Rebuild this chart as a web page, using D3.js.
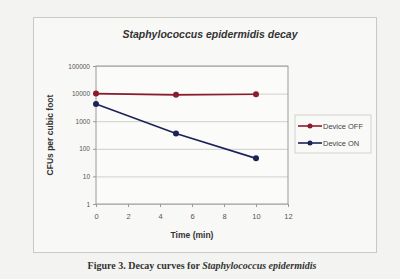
<!DOCTYPE html>
<html>
<head>
<meta charset="utf-8">
<script src="https://cdn.jsdelivr.net/npm/d3@7"></script>
<style>
  body { margin: 0; background: #f3f3f1; }
  svg { display: block; }
</style>
</head>
<body>
<div id="chart"></div>
<script>
// data
const times = [0, 5, 10];
const deviceOff = [10000, 9000, 9500];
const deviceOn = [4200, 360, 45];
const xTicks = [0, 2, 4, 6, 8, 10, 12];
const yTicks = [1, 10, 100, 1000, 10000, 100000];
const seriesNames = ['Device OFF', 'Device ON'];
const seriesColors = ['#8a1c2c', '#1c2358'];

const width = 400, height = 279;
const margin = { top: 66, left: 96, right: 112, bottom: 75 };

const svg = d3.select('#chart').append('svg')
  .attr('width', width)
  .attr('height', height);

// outer chart box
svg.append('rect')
  .attr('x', 33.5).attr('y', 17.5)
  .attr('width', 343).attr('height', 235)
  .style('fill', '#f8f8f6')
  .style('stroke', '#c9c9c6');

const w = width - margin.left - margin.right;
const h = height - margin.top - margin.bottom;

const xScale = d3.scaleLinear().domain([0, 12]).range([0, w]);
const yScale = d3.scaleLog().domain([1, 100000]).range([h, 0]);

const focus = svg.append('g')
  .attr('transform', 'translate(' + [margin.left, margin.top] + ')');

focus.append('rect')
  .attr('width', w).attr('height', h)
  .style('fill', '#fbfbfa');

// grid
focus.append('g')
  .call(d3.axisLeft(yScale).tickValues(yTicks).tickSize(-w).tickFormat(''))
  .call(g => g.select('.domain').remove())
  .selectAll('line').style('stroke', '#cfcfcc');

focus.append('rect')
  .attr('width', w).attr('height', h)
  .style('fill', 'none')
  .style('stroke', '#9a9a98');

const yAxis = focus.append('g')
  .call(d3.axisLeft(yScale).tickValues(yTicks).tickSize(3).tickFormat(d3.format('d')));
yAxis.select('.domain').remove();
yAxis.selectAll('line').style('stroke', '#9a9a98');
yAxis.selectAll('text')
  .attr('x', -6)
  .style('font-family', 'Liberation Sans, Arial, sans-serif')
  .style('font-size', '6.5px')
  .style('fill', '#555');

const xAxis = focus.append('g')
  .attr('transform', 'translate(0,' + h + ')')
  .call(d3.axisBottom(xScale).tickValues(xTicks).tickSize(3));
xAxis.select('.domain').remove();
xAxis.selectAll('line').style('stroke', '#9a9a98');
xAxis.selectAll('text')
  .attr('y', 10)
  .style('font-family', 'Liberation Sans, Arial, sans-serif')
  .style('font-size', '7.5px')
  .style('fill', '#555');

const series = [deviceOff, deviceOn];
const line = d3.line()
  .x((d, i) => xScale(times[i]))
  .y(d => yScale(d));

series.forEach((vals, k) => {
  focus.append('path')
    .attr('d', line(vals))
    .style('fill', 'none')
    .style('stroke', seriesColors[k])
    .style('stroke-width', 1.6);
  focus.selectAll('.dot' + k)
    .data(vals)
    .enter().append('circle')
    .attr('cx', (d, i) => xScale(times[i]))
    .attr('cy', d => yScale(d))
    .attr('r', 3)
    .style('fill', seriesColors[k]);
});

// title and axis labels
svg.append('text')
  .attr('x', 210).attr('y', 38)
  .attr('text-anchor', 'middle')
  .style('font-family', 'Liberation Sans, Arial, sans-serif')
  .style('font-size', '10.5px')
  .style('font-weight', 'bold')
  .style('font-style', 'italic')
  .style('fill', '#333')
  .text('Staphylococcus epidermidis  decay');

svg.append('text')
  .attr('x', margin.left + xScale(6)) .attr('y', 238)
  .attr('text-anchor', 'middle')
  .style('font-family', 'Liberation Sans, Arial, sans-serif')
  .style('font-size', '8.5px')
  .style('font-weight', 'bold')
  .style('fill', '#333')
  .text('Time (min)');

svg.append('text')
  .attr('transform', 'translate(53,' + (margin.top + h / 2) + ') rotate(-90)')
  .attr('text-anchor', 'middle')
  .style('font-family', 'Liberation Sans, Arial, sans-serif')
  .style('font-size', '8.5px')
  .style('font-weight', 'bold')
  .style('fill', '#333')
  .text('CFUs per cubic foot');

// legend
const legend = svg.append('g').attr('transform', 'translate(295,115)');
legend.append('rect')
  .attr('width', 76).attr('height', 38)
  .style('fill', '#f9f9f8')
  .style('stroke', '#d2d2cf');
seriesNames.forEach((name, k) => {
  const y = 11 + k * 17;
  legend.append('line')
    .attr('x1', 3).attr('x2', 27).attr('y1', y).attr('y2', y)
    .style('stroke', seriesColors[k]).style('stroke-width', 1.6);
  legend.append('circle')
    .attr('cx', 15).attr('cy', y).attr('r', 2.5)
    .style('fill', seriesColors[k]);
  legend.append('text')
    .attr('x', 28).attr('y', y + 2.5)
    .style('font-family', 'Liberation Sans, Arial, sans-serif')
    .style('font-size', '7.5px')
    .style('fill', '#444')
    .text(name);
});

// caption
const cap = svg.append('text')
  .attr('x', 202).attr('y', 269)
  .attr('text-anchor', 'middle')
  .style('font-family', 'Liberation Serif, Times New Roman, serif')
  .style('font-size', '10px')
  .style('font-weight', 'bold')
  .style('fill', '#333');
cap.append('tspan').text('Figure 3.  Decay curves for ');
cap.append('tspan').style('font-style', 'italic').text('Staphylococcus epidermidis');
</script>
</body>
</html>
